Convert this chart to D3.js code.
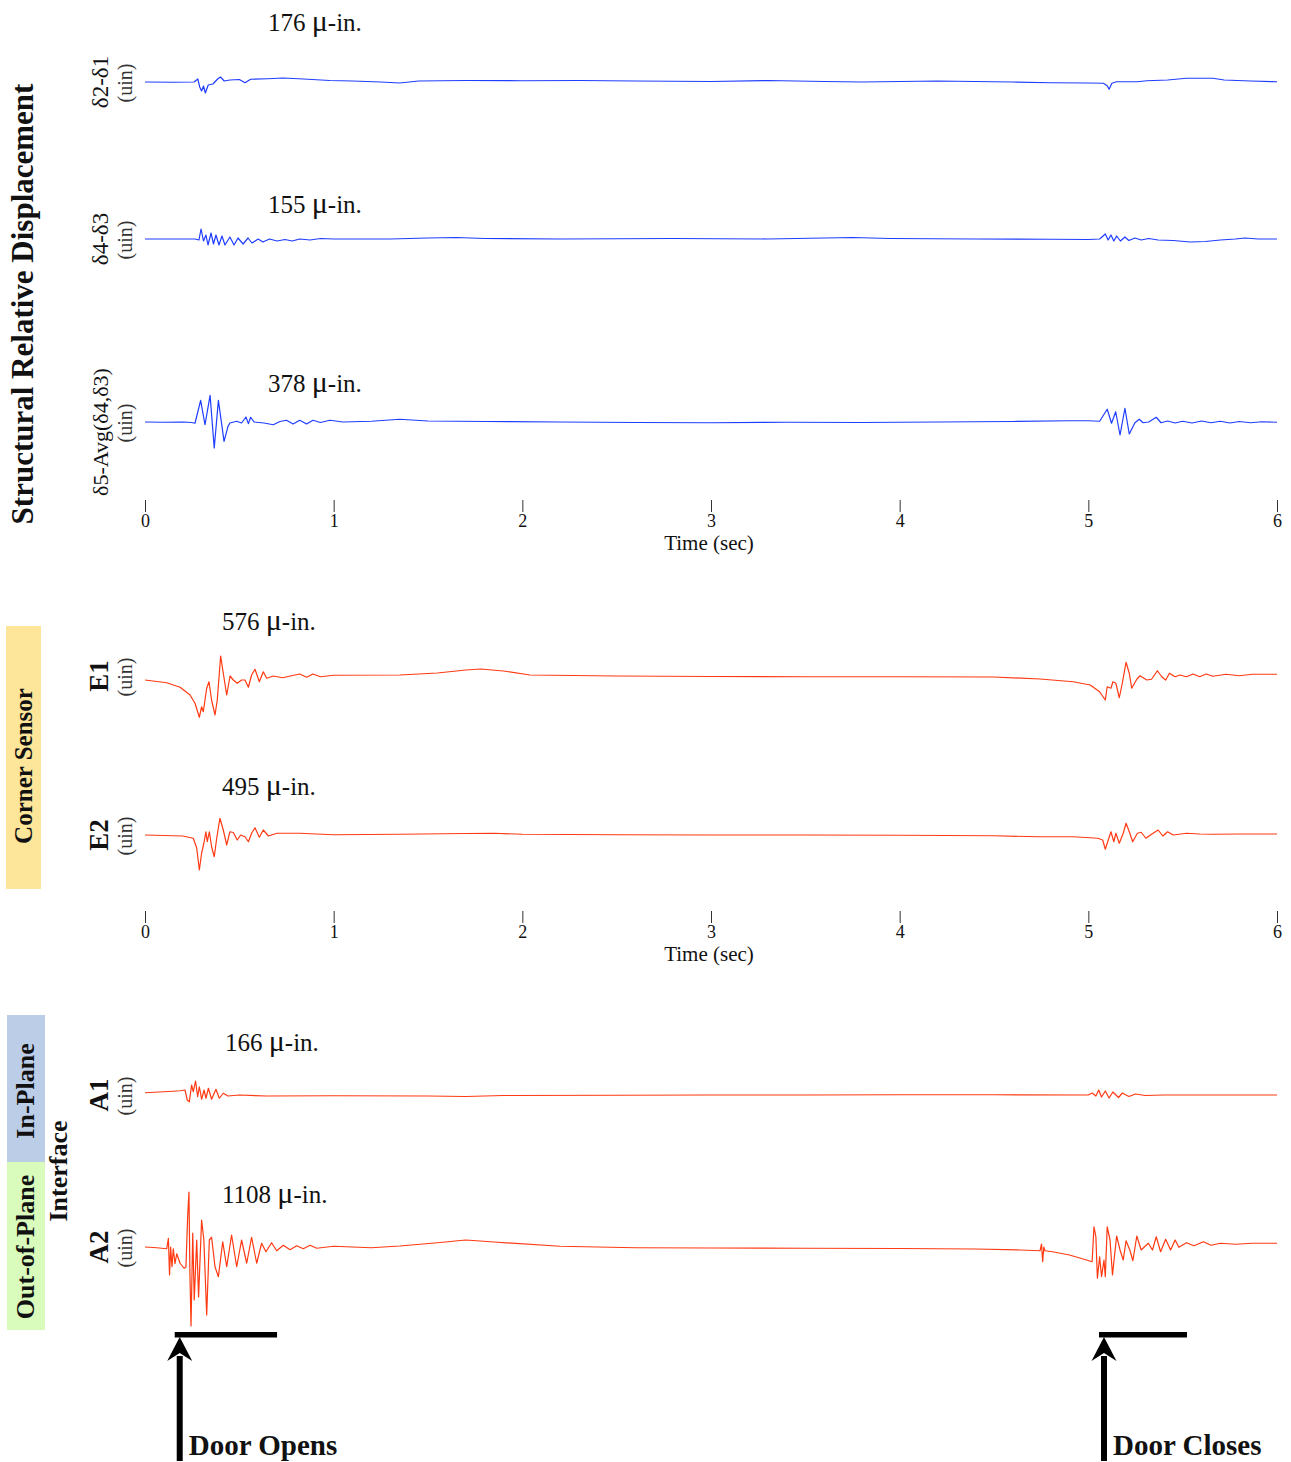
<!DOCTYPE html>
<html>
<head>
<meta charset="utf-8">
<script src="https://cdn.jsdelivr.net/npm/d3@7"></script>
<style>
  body { margin: 0; background: #fff; }
  text { font-family: "Liberation Serif", "Times New Roman", serif; fill: #111; }
</style>
</head>
<body>
<script>
// time axis (sec)
const timeTicks = [0, 1, 2, 3, 4, 5, 6];

// channel names and peak-to-peak annotations
const channelNames = ["δ2-δ1", "δ4-δ3", "δ5-Avg(δ4,δ3)", "E1", "E2", "A1", "A2"];
const peakValues = [176, 155, 378, 576, 495, 166, 1108];

// traces: [time (sec), displacement (μin)]
const traceD21 = [[0,0],[0.15,-2],[0.26,0],[0.28,24],[0.29,-40],[0.30,-72],[0.31,-32],[0.32,-88],[0.335,-24],[0.36,-16],[0.385,24],[0.40,40],[0.42,8],[0.45,16],[0.5,20],[0.53,-6],[0.56,22],[0.65,26],[0.73,32],[0.84,24],[0.98,12],[1.1,8],[1.25,0],[1.35,-8],[1.45,8],[1.7,12],[2.0,10],[2.3,12],[2.6,8],[3.0,4],[3.3,12],[3.6,4],[3.8,0],[4.2,8],[4.6,0],[4.8,-6],[5.0,-8],[5.08,-10],[5.10,-30],[5.11,-58],[5.125,-10],[5.15,2],[5.2,2],[5.26,2],[5.31,10],[5.42,16],[5.52,30],[5.66,30],[5.72,16],[5.86,8],[6.0,2]];

const traceD43 = [[0,0],[0.265,0],[0.286,-8],[0.297,80],[0.31,-16],[0.323,32],[0.334,-48],[0.35,48],[0.363,-40],[0.376,32],[0.392,-48],[0.408,24],[0.424,-48],[0.45,16],[0.472,-48],[0.493,8],[0.52,-40],[0.546,8],[0.567,-32],[0.6,0],[0.625,-24],[0.66,0],[0.7,-16],[0.742,-4],[0.78,-16],[0.82,0],[0.875,-8],[0.93,4],[1.0,0],[1.3,0],[1.5,8],[1.65,12],[1.8,4],[2.2,0],[2.8,4],[3.3,0],[3.6,8],[3.75,12],[3.95,4],[4.4,0],[4.8,-2],[5.0,-4],[5.06,0],[5.09,40],[5.105,-8],[5.12,32],[5.135,-16],[5.15,24],[5.17,-16],[5.194,16],[5.215,-12],[5.247,8],[5.28,-8],[5.32,4],[5.37,-8],[5.45,-12],[5.54,-24],[5.62,-20],[5.7,-8],[5.78,0],[5.83,8],[5.9,0],[6.0,0]];

const traceD5 = [[0,0],[0.1,-2],[0.2,0],[0.247,-4],[0.265,-10],[0.295,173],[0.318,-22],[0.345,213],[0.367,-208],[0.389,173],[0.419,-155],[0.44,-35],[0.45,-8],[0.486,6],[0.512,-8],[0.535,40],[0.548,-13],[0.56,38],[0.578,0],[0.63,-8],[0.68,-22],[0.715,4],[0.75,14],[0.785,-16],[0.82,14],[0.857,-16],[0.89,14],[0.93,-4],[0.98,14],[1.05,0],[1.2,6],[1.35,22],[1.5,8],[1.8,4],[2.2,0],[2.6,-4],[3.0,-6],[3.4,-2],[3.8,-4],[4.2,0],[4.6,4],[4.9,10],[5.0,10],[5.06,6],[5.1,102],[5.123,-10],[5.145,82],[5.168,-104],[5.194,110],[5.217,-96],[5.247,-6],[5.27,22],[5.29,-6],[5.32,0],[5.36,38],[5.385,-6],[5.42,8],[5.46,-8],[5.5,6],[5.55,-8],[5.6,8],[5.65,-6],[5.7,6],[5.75,-8],[5.8,4],[5.86,-6],[5.92,2],[6.0,-2]];

const traceE1 = [[0,-32],[0.115,-54],[0.186,-90],[0.239,-152],[0.265,-218],[0.288,-330],[0.3,-246],[0.309,-286],[0.327,-98],[0.339,-46],[0.353,-192],[0.371,-312],[0.383,-192],[0.401,160],[0.415,22],[0.433,-152],[0.451,0],[0.468,-32],[0.489,-58],[0.512,-32],[0.53,-32],[0.548,-90],[0.565,8],[0.583,54],[0.606,-46],[0.627,34],[0.645,-18],[0.68,0],[0.73,-14],[0.77,0],[0.82,16],[0.857,-10],[0.89,16],[0.93,-6],[1.0,6],[1.35,8],[1.55,24],[1.7,48],[1.78,56],[1.9,40],[2.04,8],[2.5,0],[3.0,-4],[3.5,-6],[4.0,-6],[4.5,-8],[4.744,-24],[4.92,-46],[5.01,-72],[5.06,-126],[5.09,-192],[5.1,-86],[5.12,-98],[5.13,-46],[5.146,-58],[5.164,-174],[5.18,-58],[5.2,110],[5.217,22],[5.23,-98],[5.257,-26],[5.274,2],[5.31,-32],[5.335,-26],[5.366,42],[5.389,-6],[5.41,-32],[5.43,22],[5.46,-6],[5.486,8],[5.52,-6],[5.555,16],[5.59,-6],[5.625,16],[5.66,-2],[5.73,14],[5.8,2],[5.87,14],[6.0,14]];

const traceE2 = [[0,0],[0.2,-8],[0.256,-26],[0.274,-104],[0.288,-280],[0.3,-146],[0.312,-66],[0.323,26],[0.33,-54],[0.341,26],[0.353,-94],[0.367,-174],[0.38,-26],[0.397,134],[0.415,40],[0.433,-80],[0.45,26],[0.468,20],[0.489,-40],[0.507,0],[0.53,-14],[0.548,-54],[0.565,14],[0.583,58],[0.606,-18],[0.627,40],[0.654,-8],[0.7,14],[0.82,14],[1.0,2],[1.35,6],[1.7,12],[1.85,14],[2.0,6],[2.5,2],[3.0,0],[3.5,0],[4.0,-2],[4.5,-6],[4.74,-14],[4.92,-14],[5.05,-26],[5.076,-40],[5.09,-114],[5.1,-66],[5.12,26],[5.135,-54],[5.146,14],[5.164,-66],[5.185,14],[5.2,94],[5.22,14],[5.235,-54],[5.26,14],[5.28,22],[5.305,-26],[5.335,6],[5.37,40],[5.395,-8],[5.42,26],[5.45,0],[5.52,14],[5.59,8],[5.66,6],[5.8,8],[6.0,8]];

const traceA1 = [[0,18],[0.15,30],[0.186,34],[0.212,40],[0.224,-40],[0.235,-54],[0.247,80],[0.256,26],[0.268,112],[0.279,-14],[0.288,66],[0.3,-34],[0.313,40],[0.323,-26],[0.336,54],[0.353,-34],[0.376,46],[0.394,-26],[0.415,14],[0.44,-8],[0.5,0],[0.645,-8],[1.0,-6],[1.5,-8],[1.7,-12],[1.9,-4],[2.5,-2],[3.0,0],[3.5,0],[4.0,2],[4.5,2],[5.0,0],[5.02,16],[5.04,-8],[5.055,40],[5.07,-16],[5.09,32],[5.11,-24],[5.13,24],[5.16,-20],[5.18,16],[5.215,-12],[5.25,8],[5.3,-4],[5.4,0],[6.0,0]];

const traceA2 = [[0,0],[0.062,-6],[0.115,-14],[0.124,70],[0.13,-224],[0.136,0],[0.143,-158],[0.15,-14],[0.159,-134],[0.168,-54],[0.186,-130],[0.207,-170],[0.217,-160],[0.226,240],[0.233,440],[0.238,-208],[0.244,-632],[0.253,112],[0.261,-424],[0.274,56],[0.284,-400],[0.3,216],[0.312,56],[0.327,-544],[0.341,56],[0.353,78],[0.371,-158],[0.389,-238],[0.412,42],[0.433,-158],[0.459,96],[0.486,-158],[0.512,56],[0.539,-130],[0.565,78],[0.592,-130],[0.618,30],[0.641,-38],[0.671,34],[0.698,-30],[0.733,14],[0.769,-22],[0.804,10],[0.839,-14],[0.875,14],[0.91,-10],[1.0,6],[1.2,-6],[1.35,8],[1.55,34],[1.7,56],[1.85,40],[2.2,6],[2.6,-6],[3.0,-8],[3.5,-10],[4.0,-12],[4.4,-16],[4.64,-24],[4.744,-30],[4.752,24],[4.758,-118],[4.764,0],[4.77,-30],[4.81,-38],[4.9,-64],[4.99,-104],[5.02,-118],[5.03,162],[5.04,82],[5.048,-250],[5.06,-78],[5.07,-238],[5.083,-104],[5.09,-238],[5.1,162],[5.115,56],[5.128,-224],[5.15,88],[5.168,-24],[5.185,-104],[5.2,50],[5.22,-24],[5.236,-110],[5.257,88],[5.28,-24],[5.318,30],[5.34,-24],[5.36,82],[5.383,-38],[5.41,62],[5.436,-24],[5.46,56],[5.48,-2],[5.52,34],[5.56,10],[5.61,42],[5.65,14],[5.7,30],[5.78,22],[5.87,30],[6.0,30]];

// door events (sec)
const eventNames = ["Door Opens", "Door Closes"];
const eventTimes = [0.184, 5.083];
const eventBarEnds = [0.70, 5.523];

// group labels
const groupNames = ["Structural Relative Displacement", "Corner Sensor", "In-Plane", "Out-of-Plane", "Interface"];

const W = 1291, H = 1462;
const blue = "#1f3dff", red = "#ff3a12";

const svg = d3.select("body").append("svg")
    .attr("width", W)
    .attr("height", H);

const x = d3.scaleLinear().domain([0, 6]).range([145, 1277]);

// layout of each strip
const strips = [
  { data: traceD21, base: 82,   color: blue, bold: false, size: 23, annX: 268, annY: 31 },
  { data: traceD43, base: 239,  color: blue, bold: false, size: 23, annX: 268, annY: 213 },
  { data: traceD5,  base: 422,  color: blue, bold: false, size: 22, annX: 268, annY: 392, labelY: 432 },
  { data: traceE1,  base: 676,  color: red,  bold: true,  size: 27, annX: 222, annY: 630 },
  { data: traceE2,  base: 835,  color: red,  bold: true,  size: 27, annX: 222, annY: 795 },
  { data: traceA1,  base: 1095, color: red,  bold: true,  size: 27, annX: 225, annY: 1051 },
  { data: traceA2,  base: 1247, color: red,  bold: true,  size: 27, annX: 222, annY: 1203 }
];

strips.forEach(function (s, i) {
  const y = d3.scaleLinear().domain([-400, 400]).range([s.base + 50, s.base - 50]);
  const line = d3.line().x(d => x(d[0])).y(d => y(d[1]));

  svg.append("path")
      .datum(s.data)
      .attr("d", line)
      .attr("fill", "none")
      .attr("stroke", s.color)
      .attr("stroke-width", 1.2)
      .attr("stroke-linejoin", "round");

  // channel label
  const ly = s.labelY || s.base;
  svg.append("text")
      .attr("transform", "translate(108," + ly + ") rotate(-90)")
      .attr("text-anchor", "middle")
      .style("font-size", s.size + "px")
      .style("font-weight", s.bold ? "bold" : "normal")
      .text(channelNames[i]);

  svg.append("text")
      .attr("transform", "translate(132," + (s.base + 1) + ") rotate(-90)")
      .attr("text-anchor", "middle")
      .style("font-size", "20px")
      .style("fill", "#333")
      .text("(uin)");

  // peak-to-peak annotation
  const ann = svg.append("text")
      .attr("x", s.annX)
      .attr("y", s.annY)
      .style("font-size", "25px");
  ann.append("tspan").text(peakValues[i] + " ");
  ann.append("tspan").style("font-size", "30px").text("μ");
  ann.append("tspan").text("-in.");
});

// time axes
[500, 911].forEach(function (ay) {
  const g = svg.append("g")
      .attr("transform", "translate(0," + ay + ")")
      .call(d3.axisBottom(x).tickValues(timeTicks).tickSize(12).tickPadding(2).tickFormat(d3.format("d")));
  g.select(".domain").remove();
  g.selectAll(".tick line").attr("stroke", "#333");
  g.selectAll(".tick text")
      .style("font-family", "'Liberation Serif', serif")
      .style("font-size", "18px")
      .attr("fill", "#111");

  svg.append("text")
      .attr("x", x(3) - 2)
      .attr("y", ay + 50)
      .attr("text-anchor", "middle")
      .style("font-size", "21px")
      .text("Time (sec)");
});

// coloured group boxes
const boxes = [
  { x: 6, y: 626,  w: 35, h: 263, fill: "#fde599" },
  { x: 7, y: 1015, w: 38, h: 147, fill: "#bccde8" },
  { x: 7, y: 1162, w: 38, h: 168, fill: "#d9fbbb" }
];
svg.selectAll("rect.box")
  .data(boxes)
  .enter().append("rect")
    .attr("class", "box")
    .attr("x", d => d.x)
    .attr("y", d => d.y)
    .attr("width", d => d.w)
    .attr("height", d => d.h)
    .attr("fill", d => d.fill);

const groupPos = [
  { x: 33, y: 304,  size: 31 },
  { x: 32, y: 766,  size: 25 },
  { x: 34, y: 1091, size: 26 },
  { x: 34, y: 1247, size: 26 },
  { x: 67, y: 1171, size: 26 }
];
groupNames.forEach(function (name, i) {
  const p = groupPos[i];
  svg.append("text")
      .attr("transform", "translate(" + p.x + "," + p.y + ") rotate(-90)")
      .attr("text-anchor", "middle")
      .style("font-size", p.size + "px")
      .style("font-weight", "bold")
      .text(name);
});

// door events: bar, arrow and label
eventNames.forEach(function (name, i) {
  const cx = x(eventTimes[i]);
  svg.append("rect")
      .attr("x", cx - 5)
      .attr("y", 1332)
      .attr("width", x(eventBarEnds[i]) - cx + 5)
      .attr("height", 5.5)
      .attr("fill", "#000");
  svg.append("line")
      .attr("x1", cx).attr("x2", cx)
      .attr("y1", 1356).attr("y2", 1461)
      .attr("stroke", "#000")
      .attr("stroke-width", 6);
  svg.append("path")
      .attr("d", "M" + cx + ",1337 L" + (cx + 12.5) + ",1361 L" + cx + ",1353 L" + (cx - 12.5) + ",1361 Z")
      .attr("fill", "#000");
  svg.append("text")
      .attr("x", cx + 9)
      .attr("y", 1455)
      .style("font-size", "29px")
      .style("font-weight", "bold")
      .text(name);
});
</script>
</body>
</html>
